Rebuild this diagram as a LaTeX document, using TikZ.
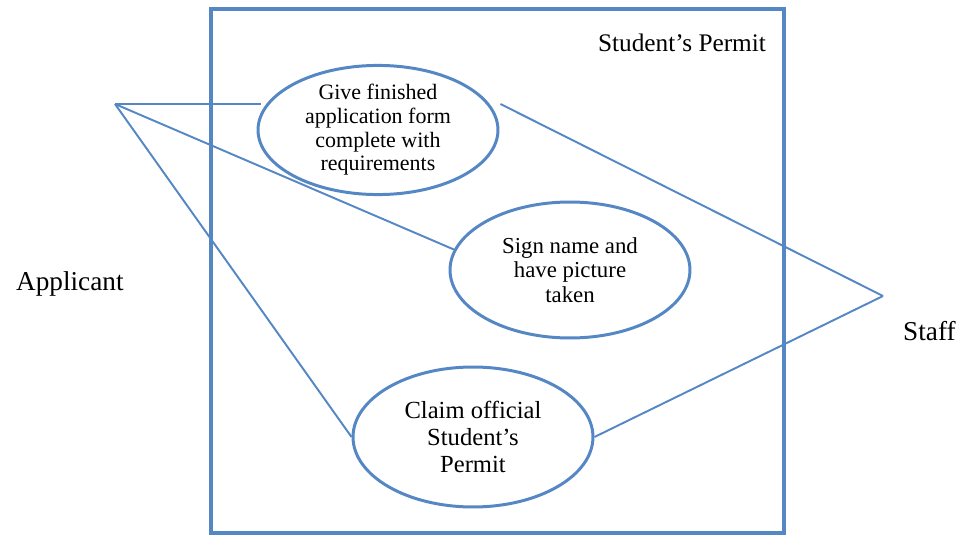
\documentclass[tikz,border=0pt]{standalone}
\usepackage{fontspec}
\setmainfont{Liberation Serif}
\usepackage{tikz}
\usetikzlibrary{positioning,calc,shapes.geometric}
\definecolor{umlblue}{RGB}{84,135,195}
\tikzset{>=latex}
\tikzset{usecase/.style={ellipse,draw=umlblue,line width=1.7pt,align=center,inner sep=0pt}}
\tikzset{link/.style={draw=umlblue,line width=1.1pt}}

\begin{document}
\begin{tikzpicture}[x=0.02cm,y=-0.02cm]
\useasboundingbox (0,0) rectangle (958,537);

% system boundary
\draw[umlblue,line width=2.3pt] (211,9) rectangle (784,533);
\node [align=center,font=\fontsize{14.4}{16}\selectfont] (title) at (682,43) {Student’s Permit};

% actors
\coordinate (app) at (115,104);
\coordinate (stf) at (883,296);
\node [anchor=west,font=\fontsize{15.5}{18}\selectfont] (applicant) at (10,284) {Applicant};
\node [anchor=west,font=\fontsize{15.5}{18}\selectfont] (staff) at (897,331) {Staff};

% use cases
\node [usecase,minimum width=4.8cm,minimum height=2.32cm,font=\fontsize{12.5}{13.5}\selectfont] (give) at (378,130)
  {Give finished\\application form\\complete with\\requirements};
\node [usecase,minimum width=4.8cm,minimum height=2.72cm,font=\fontsize{13}{14}\selectfont] (sign) at (570,270)
  {Sign name and\\have picture\\taken};
\node [usecase,minimum width=4.8cm,minimum height=2.8cm,font=\fontsize{14}{15.5}\selectfont] (claim) at (473,437)
  {Claim official\\Student’s\\Permit};

\begin{scope}[link]
\draw (app) to ($(app -| give.west)+(4,0)$);
\draw (app) to (sign.170);
\draw (app) to (claim.west);
\draw (stf) to ($(give.east)+(1,-26)$);
\draw (stf) to (claim.east);
\end{scope}

\end{tikzpicture}
\end{document}
